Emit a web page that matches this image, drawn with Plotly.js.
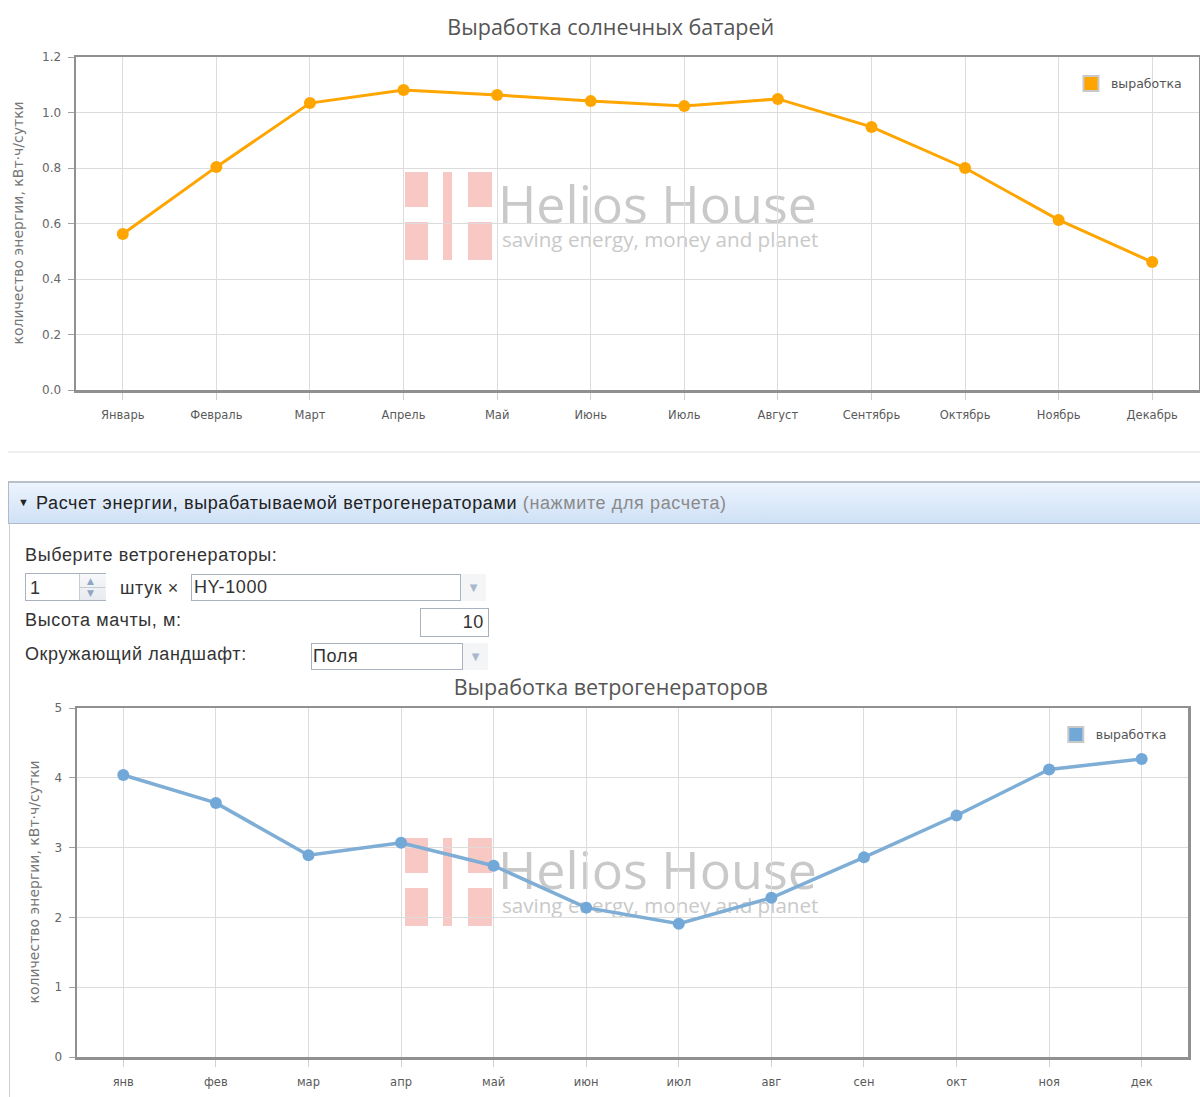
<!DOCTYPE html>
<html>
<head>
<meta charset="utf-8">
<script src="https://cdn.plot.ly/plotly-3.0.1.min.js"></script>
<style>
  html, body { margin:0; padding:0; background:#fff; width:1200px; height:1097px; overflow:hidden; }
  .abs { position:absolute; }
  .plot { position:absolute; left:0; width:1200px; z-index:2; }
  .wm-block { position:absolute; background:#f7c8c4; z-index:1; }
  .wm-text { position:absolute; font-family:"Open Sans", sans-serif; color:#c9c9c9; white-space:nowrap; z-index:1; }
  .form { position:absolute; font-family:"Liberation Sans", Arial, sans-serif; font-size:18px; letter-spacing:0.62px; color:#333; white-space:nowrap; line-height:1; }
  .box { position:absolute; border:1px solid #a9b3c0; background:#fff; box-sizing:border-box; }
  .arrow { position:absolute; background:#f4f5f7; box-sizing:border-box; color:#a9b8cc; font-size:10px; text-align:center; font-family:"DejaVu Sans", sans-serif; }
</style>
</head>
<body>
<div id="wm1"></div>
<div id="wm2"></div>
<div id="c1" class="plot" style="top:0;height:440px;"></div>

<div class="abs" style="left:8px;top:451px;width:1192px;height:2px;background:#efefef;"></div>

<div class="abs" style="left:8px;top:481px;width:1200px;height:43px;box-sizing:border-box;border:1px solid #b3bac6;border-right:none;border-top:2px solid #b9c0cc;background:linear-gradient(#ecf4fe,#cfe1f6);"></div>
<div class="form" style="left:18px;top:497px;font-size:11px;letter-spacing:0;color:#222;">▼</div>
<div class="form" style="left:36px;top:494px;color:#222;">Расчет энергии, вырабатываемой ветрогенераторами <span style="color:#8a8a8a;">(нажмите для расчета)</span></div>
<div class="abs" style="left:9px;top:524px;width:1px;height:573px;background:#c8d0da;"></div>

<div class="form" style="left:25px;top:546px;">Выберите ветрогенераторы:</div>
<div class="box" style="left:25px;top:573px;width:81px;height:28px;"></div>
<div class="form" style="left:30px;top:579px;">1</div>
<div class="abs" style="left:79px;top:574px;width:26px;height:26px;border-left:1px solid #c4ccd6;background:linear-gradient(#f7f8fa,#e8ebef);"></div>
<div class="abs" style="left:80px;top:587px;width:25px;height:1px;background:#c4ccd6;"></div>
<div class="abs" style="left:87px;top:576px;font-size:9px;color:#8fa6c4;font-family:'DejaVu Sans';">▲</div>
<div class="abs" style="left:87px;top:588px;font-size:9px;color:#8fa6c4;font-family:'DejaVu Sans';">▼</div>
<div class="form" style="left:120px;top:579px;">штук ×</div>
<div class="box" style="left:191px;top:574px;width:270px;height:27px;"></div>
<div class="form" style="left:194px;top:578px;">HY-1000</div>
<div class="arrow" style="left:461px;top:574px;width:25px;height:27px;padding-top:8px;">▼</div>

<div class="form" style="left:25px;top:611px;">Высота мачты, м:</div>
<div class="box" style="left:420px;top:608px;width:69px;height:29px;"></div>
<div class="form" style="left:420px;top:613px;width:64px;text-align:right;">10</div>

<div class="form" style="left:25px;top:645px;">Окружающий ландшафт:</div>
<div class="box" style="left:311px;top:643px;width:152px;height:27px;"></div>
<div class="form" style="left:313px;top:647px;">Поля</div>
<div class="arrow" style="left:463px;top:643px;width:25px;height:27px;padding-top:8px;">▼</div>

<div id="c2" class="plot" style="top:670px;height:427px;"></div>

<script>
// ---------- data ----------
const solarMonths = ["Январь","Февраль","Март","Апрель","Май","Июнь","Июль","Август","Сентябрь","Октябрь","Ноябрь","Декабрь"];
const solarValues = [0.562, 0.804, 1.034, 1.081, 1.063, 1.041, 1.023, 1.049, 0.948, 0.800, 0.613, 0.461];
const windMonths = ["янв","фев","мар","апр","май","июн","июл","авг","сен","окт","ноя","дек"];
const windValues = [4.04, 3.64, 2.89, 3.07, 2.74, 2.14, 1.91, 2.28, 2.86, 3.46, 4.12, 4.27];
const seriesName = "выработка";
const yTitle = "количество энергии, кВт·ч/сутки";
const solarTitle = "Выработка солнечных батарей";
const windTitle = "Выработка ветрогенераторов";
const solarTicks = [0, 0.2, 0.4, 0.6, 0.8, 1.0, 1.2];
const windTicks = [0, 1, 2, 3, 4, 5];

// ---------- watermark (decoration, behind transparent plots) ----------
function watermark(id, dy) {
  const host = document.getElementById(id);
  const blocks = [
    [405, 172, 23, 35], [405, 222, 23, 38],
    [443, 172, 9, 88],
    [468, 172, 24, 35], [468, 222, 24, 38]
  ];
  blocks.forEach(b => {
    const d = document.createElement('div');
    d.className = 'wm-block';
    d.style.left = b[0] + 'px'; d.style.top = (b[1] + dy) + 'px';
    d.style.width = b[2] + 'px'; d.style.height = b[3] + 'px';
    host.appendChild(d);
  });
  const t = document.createElement('div');
  t.className = 'wm-text';
  t.style.left = '498px'; t.style.top = (183 + dy) + 'px';
  t.style.fontSize = '52px'; t.style.lineHeight = '40px';
  t.innerHTML = 'Helios House<br><span style="display:inline-block;margin-left:4px;margin-top:6px;font-size:20.6px;line-height:20px;vertical-align:top;">saving energy, money and planet</span>';
  host.appendChild(t);
}
watermark('wm1', 0);
watermark('wm2', 666);

// ---------- charts ----------
const tickFont = {family: "DejaVu Sans, sans-serif", size: 12, color: "#666"};
const xTickFont = {family: "DejaVu Sans, sans-serif", size: 11.5, color: "#5a5a5a"};

function makeChart(el, cats, vals, ticks, yRange, title, color, mColor, dims) {
  const traces = [
    {x: cats, y: vals, type: 'scatter', mode: 'lines+markers', showlegend: false,
     line: {color: color, width: dims.lw}, marker: {color: mColor, size: 12}, hoverinfo: 'skip'},
    {x: [null], y: [null], type: 'scatter', mode: 'markers', name: seriesName,
     marker: {symbol: 'square', size: 15, color: mColor, line: {color: '#c9c9c9', width: 2}}}
  ];
  const layout = {
    width: 1200, height: dims.h,
    margin: {l: dims.l, r: dims.r, t: dims.t, b: dims.b},
    paper_bgcolor: 'rgba(0,0,0,0)', plot_bgcolor: 'rgba(0,0,0,0)',
    title: {text: title, font: {family: "Open Sans, sans-serif", size: 21.5, color: "#555"},
            x: 0.509, xanchor: 'center', y: dims.titleY, yanchor: 'middle', yref: 'container'},
    xaxis: {type: 'category', range: [-0.5, 11.5], showgrid: true, gridcolor: '#dcdcdc', gridwidth: 1,
            showline: true, linecolor: '#909090', linewidth: 2.5, mirror: true,
            ticks: 'outside', ticklen: 7, tickcolor: '#cfcfcf', tickwidth: 1,
            tickfont: xTickFont, ticklabelstandoff: dims.xStand, fixedrange: true},
    yaxis: {range: yRange, tickvals: ticks, tickformat: dims.fmt, showgrid: true, gridcolor: '#dcdcdc', gridwidth: 1,
            zeroline: false, showline: true, linecolor: '#909090', linewidth: 2.5, mirror: true,
            ticks: 'outside', ticklen: 6, tickcolor: '#a0a0a0', tickwidth: 1,
            tickfont: tickFont, ticklabelstandoff: 4, fixedrange: true},
    legend: {x: dims.legX, y: dims.legY, xanchor: 'left', yanchor: 'top', bgcolor: 'rgba(0,0,0,0)',
             font: {family: "DejaVu Sans, sans-serif", size: 12.5, color: "#555"}},
    annotations: [{text: yTitle, xref: 'paper', yref: 'paper', x: 0, y: 0.5, xshift: dims.ytX,
                   textangle: -90, showarrow: false, xanchor: 'center', yanchor: 'middle',
                   font: {family: "DejaVu Sans, sans-serif", size: 14, color: "#777"}}]
  };
  Plotly.newPlot(el, traces, layout, {displayModeBar: false, staticPlot: true});
}

makeChart('c1', solarMonths, solarValues, solarTicks, [0, 1.2], solarTitle, '#FFA500', '#FFA500',
  {h: 440, l: 76, r: 1, t: 57, b: 50, titleY: 1 - 27/440, xStand: 6, fmt: '.1f',
   legX: 0.886, legY: 0.964, ytX: -59, lw: 3});
makeChart('c2', windMonths, windValues, windTicks, [0, 5], windTitle, '#7eadd6', '#72a8d8',
  {h: 427, l: 77, r: 12, t: 38, b: 40, titleY: 1 - 17/427, xStand: 6, fmt: 'd',
   legX: 0.881, legY: 0.966, ytX: -44, lw: 3.5});
</script>
</body>
</html>
